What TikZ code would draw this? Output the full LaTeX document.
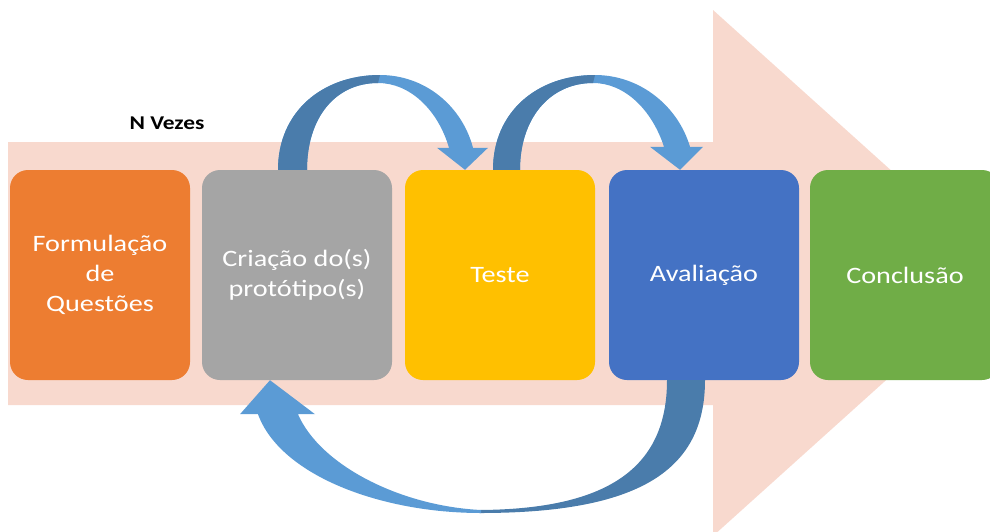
\documentclass[tikz,border=0pt]{standalone}
\usepackage{fontspec}
\setmainfont[FakeStretch=1.2]{Carlito}
\usepackage{tikz}
\usetikzlibrary{calc}

\definecolor{fundoSeta}{HTML}{F8D9CE}
\definecolor{laranja}{HTML}{ED7D31}
\definecolor{cinza}{HTML}{A5A5A5}
\definecolor{amarelo}{HTML}{FFC000}
\definecolor{azul}{HTML}{4472C4}
\definecolor{verde}{HTML}{70AD47}
\definecolor{arcoEscuro}{HTML}{4A7CAB}
\definecolor{arcoClaro}{HTML}{5B9BD5}

\tikzset{
  etapa/.style={rounded corners=18pt, minimum width=190pt, minimum height=210pt,
    inner sep=0pt, text=white, align=center, font=\fontsize{23.5}{30}\selectfont},
  arcoA/.style={fill=arcoEscuro},
  arcoB/.style={fill=arcoClaro}
}

\begin{document}
\begin{tikzpicture}[x=1pt, y=-1pt]
\useasboundingbox (0,0) rectangle (990,531);
\clip (0,0) rectangle (990,531);

\fill[fundoSeta] (8,142) -- (713,142) -- (713,10) -- (1005,273) -- (713,536) -- (713,405) -- (8,405) -- cycle;

\node[anchor=center] (nvezes) at (167,123) {\fontsize{19.5}{20}\selectfont\bfseries N Vezes};

\node[etapa, anchor=center, fill=laranja, minimum width=180pt] (formulacao) at (100,275) {Formulação\\de\\Questões};
\node[etapa, anchor=center, fill=cinza] (criacao) at (297,275) {Criação do(s)\\protótipo(s)};
\node[etapa, anchor=center, fill=amarelo] (teste) at (500,275) {Teste};
\node[etapa, anchor=center, fill=azul] (avaliacao) at (704,275) {Avaliação};
\node[etapa, anchor=center, fill=verde, minimum width=190pt] (conclusao) at (905,275) {Conclusão};

\fill[arcoB] ($(criacao.north)+(-19,0)$) .. controls (278,112) and (322,75) .. (380,75)
  .. controls (425,75) and (462,106) .. ($(teste.north)+(-27,-22)$)
  -- ($(teste.north)+(-12,-22)$) -- ($(teste.north)+(-35,0)$) -- ($(teste.north)+(-63,-22)$)
  -- ($(teste.north)+(-51,-22)$) .. controls (438,110) and (410,83) .. (378,83)
  .. controls (335,83) and (307,118) .. ($(criacao.north)+(10,0)$) -- cycle;
\fill[arcoA] ($(criacao.north)+(-19,0)$) .. controls (278,112) and (322,75) .. (380,75)
  -- (378,83) .. controls (335,83) and (307,118) .. ($(criacao.north)+(10,0)$) -- cycle;

\fill[arcoB] ($(teste.north)+(-7,0)$) .. controls (493,112) and (537,75) .. (595,75)
  .. controls (640,75) and (678,106) .. ($(avaliacao.north)+(-14,-23)$)
  -- ($(avaliacao.north)+(-1,-23)$) -- ($(avaliacao.north)+(-24,0)$) -- ($(avaliacao.north)+(-54,-23)$)
  -- ($(avaliacao.north)+(-40,-23)$) .. controls (652,110) and (625,83) .. (593,83)
  .. controls (550,83) and (520,118) .. ($(teste.north)+(20,0)$) -- cycle;
\fill[arcoA] ($(teste.north)+(-7,0)$) .. controls (493,112) and (537,75) .. (595,75)
  -- (593,83) .. controls (550,83) and (520,118) .. ($(teste.north)+(20,0)$) -- cycle;

\fill[arcoA] ($(avaliacao.south)+(1,0)$) .. controls (705,470) and (640,513) .. (480,513)
  -- (480,510) .. controls (605,509) and (667,470) .. ($(avaliacao.south)+(-37,0)$) -- cycle;
\fill[arcoB] (481,513) .. controls (380,513) and (280,475) .. ($(criacao.south)+(-39,34)$)
  -- ($(criacao.south)+(-57,34)$) -- ($(criacao.south)+(-27,0)$) -- ($(criacao.south)+(18,34)$)
  -- ($(criacao.south)+(1,34)$) .. controls (320,465) and (400,506) .. (481,510) -- cycle;
\end{tikzpicture}
\end{document}
